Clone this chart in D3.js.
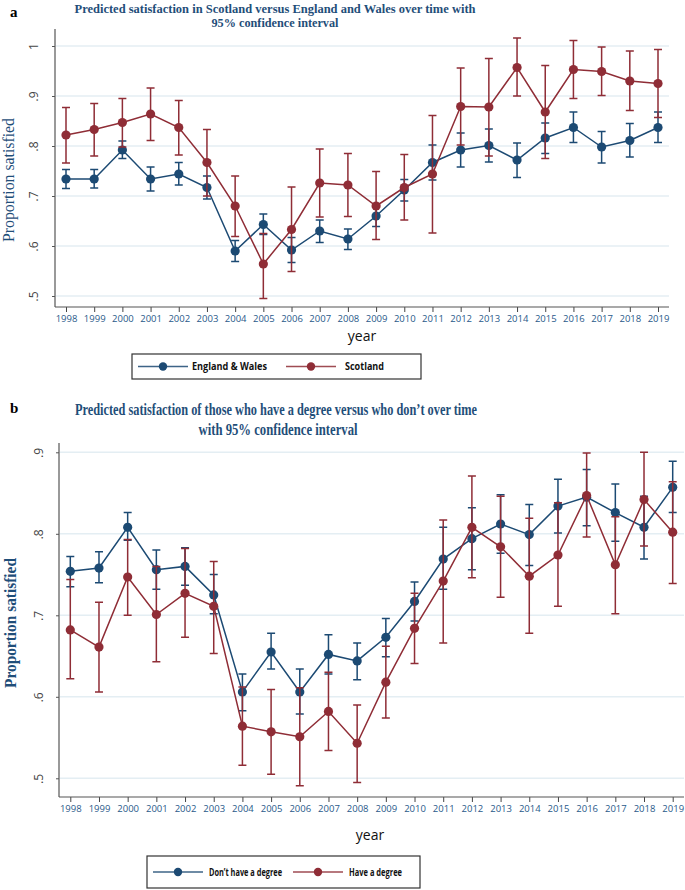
<!DOCTYPE html>
<html>
<head>
<meta charset="utf-8">
<script src="https://cdn.jsdelivr.net/npm/d3@7"></script>
<style>
  body { margin: 0; background: #fff; }
  svg { display: block; }
</style>
</head>
<body>
<svg id="chart" width="685" height="890"></svg>
<script>
// data
var years = [1998, 1999, 2000, 2001, 2002, 2003, 2004, 2005, 2006, 2007, 2008,
             2009, 2010, 2011, 2012, 2013, 2014, 2015, 2016, 2017, 2018, 2019];

// panel a
var ewMean = [0.734, 0.734, 0.792, 0.734, 0.744, 0.717, 0.590, 0.643, 0.592, 0.630, 0.614,
              0.660, 0.712, 0.767, 0.792, 0.801, 0.772, 0.816, 0.837, 0.798, 0.811, 0.837];
var ewLo   = [0.715, 0.716, 0.775, 0.710, 0.722, 0.694, 0.569, 0.623, 0.567, 0.607, 0.593,
              0.639, 0.690, 0.732, 0.758, 0.768, 0.737, 0.785, 0.807, 0.766, 0.778, 0.807];
var ewHi   = [0.753, 0.753, 0.810, 0.758, 0.767, 0.740, 0.611, 0.664, 0.617, 0.652, 0.634,
              0.682, 0.733, 0.802, 0.826, 0.834, 0.806, 0.846, 0.868, 0.829, 0.845, 0.868];
var scMean = [0.822, 0.833, 0.847, 0.864, 0.837, 0.767, 0.680, 0.564, 0.633, 0.726, 0.722,
              0.680, 0.717, 0.744, 0.879, 0.878, 0.957, 0.868, 0.953, 0.949, 0.930, 0.925];
var scLo   = [0.766, 0.780, 0.798, 0.811, 0.782, 0.700, 0.619, 0.495, 0.549, 0.658, 0.659,
              0.613, 0.652, 0.626, 0.802, 0.780, 0.900, 0.775, 0.895, 0.901, 0.871, 0.857];
var scHi   = [0.877, 0.885, 0.895, 0.916, 0.891, 0.833, 0.740, 0.625, 0.718, 0.794, 0.785,
              0.749, 0.783, 0.861, 0.956, 0.975, 1.016, 0.961, 1.011, 0.998, 0.990, 0.993];

// panel b
var noDegMean = [0.754, 0.758, 0.808, 0.756, 0.760, 0.725, 0.606, 0.655, 0.606, 0.652, 0.644,
                 0.673, 0.717, 0.769, 0.794, 0.812, 0.799, 0.834, 0.845, 0.826, 0.808, 0.857];
var noDegLo   = [0.735, 0.740, 0.792, 0.732, 0.737, 0.702, 0.583, 0.634, 0.579, 0.628, 0.621,
                 0.649, 0.693, 0.732, 0.756, 0.776, 0.761, 0.801, 0.810, 0.791, 0.769, 0.826];
var noDegHi   = [0.772, 0.778, 0.826, 0.780, 0.783, 0.750, 0.628, 0.678, 0.634, 0.676, 0.666,
                 0.696, 0.741, 0.808, 0.832, 0.848, 0.836, 0.867, 0.879, 0.861, 0.846, 0.889];
var degMean = [0.682, 0.661, 0.747, 0.701, 0.727, 0.711, 0.564, 0.557, 0.551, 0.582, 0.543,
               0.618, 0.684, 0.742, 0.808, 0.784, 0.748, 0.774, 0.847, 0.762, 0.842, 0.802];
var degLo   = [0.622, 0.606, 0.700, 0.643, 0.673, 0.653, 0.516, 0.505, 0.491, 0.534, 0.495,
               0.574, 0.641, 0.666, 0.746, 0.722, 0.678, 0.711, 0.796, 0.702, 0.785, 0.739];
var degHi   = [0.744, 0.716, 0.793, 0.760, 0.782, 0.766, 0.612, 0.609, 0.611, 0.630, 0.590,
               0.662, 0.727, 0.817, 0.871, 0.846, 0.819, 0.838, 0.899, 0.821, 0.900, 0.864];

var ticksA = [0.5, 0.6, 0.7, 0.8, 0.9, 1];
var ticksB = [0.5, 0.6, 0.7, 0.8, 0.9];
var tickLabel = function(d) { return d === 1 ? "1" : d3.format(".1f")(d).replace(/^0/, ""); };

var blue = "#1c4a73",
    red = "#8f2d36",
    titleColor = "#1f4e79";

var svg = d3.select("#chart");

function series(mean, lo, hi) {
  return years.map(function(yr, i) { return {year: yr, mean: mean[i], lo: lo[i], hi: hi[i]}; });
}

function drawPanel(o) {
  var g = svg.append("g");

  var x = d3.scalePoint().domain(years).range(o.xRange);
  var y = d3.scaleLinear().domain(o.yDomain).range(o.yRange);

  // gridlines
  g.selectAll(".grid")
      .data(o.ticks)
      .enter().append("line")
      .attr("x1", o.left + 1)
      .attr("x2", o.right)
      .attr("y1", function(d) { return y(d); })
      .attr("y2", function(d) { return y(d); })
      .attr("stroke", "#e4eef3")
      .attr("stroke-width", 1.5);

  // y axis
  var yAx = g.append("g")
      .attr("transform", "translate(" + o.left + ",0)")
      .call(d3.axisLeft(y).tickValues(o.ticks).tickFormat(tickLabel).tickSize(3));
  yAx.select(".domain").remove();
  yAx.selectAll(".tick line").attr("stroke", "#555");
  yAx.selectAll(".tick text")
      .attr("x", 0).attr("dy", 0)
      .attr("text-anchor", "middle")
      .attr("transform", "translate(" + o.yLabelDx + ",0) rotate(-90)")
      .attr("fill", "#444")
      .style("font-family", "'Open Sans', sans-serif")
      .style("font-size", "12px");

  // x axis
  var xAx = g.append("g")
      .attr("transform", "translate(0," + o.bottom + ")")
      .call(d3.axisBottom(x).tickSize(5).tickPadding(3));
  xAx.select(".domain").remove();
  xAx.selectAll(".tick line").attr("stroke", "#444");
  xAx.selectAll(".tick text")
      .attr("fill", "#2a5a8a")
      .style("font-family", "'Open Sans', sans-serif")
      .style("font-size", "9.5px");

  g.append("line")
      .attr("x1", o.left).attr("x2", o.left)
      .attr("y1", o.top).attr("y2", o.bottom)
      .attr("stroke", "#555").attr("stroke-width", 1.2);
  g.append("line")
      .attr("x1", o.left).attr("x2", o.right)
      .attr("y1", o.bottom).attr("y2", o.bottom)
      .attr("stroke", "#555").attr("stroke-width", 1.2);

  // series
  o.series.forEach(function(s) {
    var sg = g.append("g");
    var data = s.data;

    sg.selectAll(".ci")
        .data(data)
        .enter().append("path")
        .attr("d", function(d) {
          var cx = x(d.year), h = 4;
          return "M" + (cx - h) + "," + y(d.hi) + "H" + (cx + h) +
                 "M" + cx + "," + y(d.hi) + "V" + y(d.lo) +
                 "M" + (cx - h) + "," + y(d.lo) + "H" + (cx + h);
        })
        .attr("fill", "none")
        .attr("stroke", s.color)
        .attr("stroke-width", 1.5);

    sg.append("path")
        .datum(data)
        .attr("d", d3.line().x(function(d) { return x(d.year); }).y(function(d) { return y(d.mean); }))
        .attr("fill", "none")
        .attr("stroke", s.color)
        .attr("stroke-width", 1.5);

    sg.selectAll(".pt")
        .data(data)
        .enter().append("circle")
        .attr("cx", function(d) { return x(d.year); })
        .attr("cy", function(d) { return y(d.mean); })
        .attr("r", 4.6)
        .attr("fill", s.color);
  });

  // panel letter
  svg.append("text")
      .attr("x", 10).attr("y", o.letterY)
      .text(o.letter)
      .style("font-family", "'Liberation Serif', serif")
      .style("font-weight", "bold")
      .style("font-size", "15px");

  // title
  o.title.forEach(function(t) {
    svg.append("text")
        .attr("x", t.cx).attr("y", t.y)
        .attr("text-anchor", "middle")
        .attr("textLength", t.w)
        .attr("lengthAdjust", "spacingAndGlyphs")
        .attr("fill", titleColor)
        .style("font-family", "'Liberation Serif', serif")
        .style("font-weight", "bold")
        .style("font-size", o.titleSize)
        .text(t.text);
  });

  // y title
  svg.append("text")
      .attr("transform", "translate(" + o.yTitleX + "," + o.yTitleY + ") rotate(-90)")
      .attr("text-anchor", "middle")
      .attr("textLength", o.yTitleW)
      .attr("lengthAdjust", "spacingAndGlyphs")
      .attr("fill", titleColor)
      .style("font-family", "'Liberation Serif', serif")
      .style("font-weight", o.yTitleBold ? "bold" : "normal")
      .style("font-size", "17px")
      .text("Proportion satisfied");

  // x title
  svg.append("text")
      .attr("x", o.xTitleX).attr("y", o.xTitleY)
      .attr("text-anchor", "middle")
      .attr("fill", "#111")
      .style("font-family", "'Open Sans', sans-serif")
      .style("font-size", "14px")
      .text("year");

  // legend
  var L = o.legend;
  svg.append("rect")
      .attr("x", L.x).attr("y", L.y)
      .attr("width", L.w).attr("height", L.h)
      .attr("fill", "#fff")
      .attr("stroke", "#333").attr("stroke-width", 1.2);
  L.items.forEach(function(it, i) {
    var s = o.series[i];
    var cy = L.y + L.h / 2;
    svg.append("line")
        .attr("x1", it.x).attr("x2", it.x + 50)
        .attr("y1", cy).attr("y2", cy)
        .attr("stroke", s.color).attr("stroke-width", 1.5).attr("opacity", 0.85);
    svg.append("circle")
        .attr("cx", it.x + 25).attr("cy", cy).attr("r", 4.2)
        .attr("fill", s.color);
    svg.append("text")
        .attr("x", it.tx).attr("y", cy + 3.5)
        .attr("textLength", it.tw)
        .attr("lengthAdjust", "spacingAndGlyphs")
        .attr("fill", "#111")
        .style("font-family", "'Open Sans', sans-serif")
        .style("font-weight", "bold")
        .style("font-size", "10.5px")
        .text(s.name);
  });
}

drawPanel({
  letter: "a", letterY: 17,
  titleSize: "13.5px",
  title: [
    {text: "Predicted satisfaction in Scotland versus England and Wales over time with", cx: 275, y: 13, w: 401},
    {text: "95% confidence interval", cx: 275, y: 27, w: 127}
  ],
  xRange: [66, 658], yDomain: [0.5, 1], yRange: [296, 46],
  left: 55, right: 669, top: 29, bottom: 307,
  ticks: ticksA, yLabelDx: -17,
  yTitleX: 14, yTitleY: 180, yTitleW: 124, yTitleBold: false,
  xTitleX: 362, xTitleY: 341,
  series: [
    {name: "England & Wales", color: blue, data: series(ewMean, ewLo, ewHi)},
    {name: "Scotland", color: red, data: series(scMean, scLo, scHi)}
  ],
  legend: {x: 132, y: 354, w: 289, h: 25,
           items: [{x: 138, tx: 192, tw: 75}, {x: 286, tx: 345, tw: 39}]}
});

drawPanel({
  letter: "b", letterY: 413,
  titleSize: "16px",
  title: [
    {text: "Predicted satisfaction of those who have a degree versus who don\u2019t over time", cx: 276, y: 415, w: 402},
    {text: "with 95% confidence interval", cx: 278, y: 435, w: 159}
  ],
  xRange: [70.3, 672.7], yDomain: [0.5, 0.9], yRange: [778.3, 452.3],
  left: 59, right: 684, top: 443, bottom: 797,
  ticks: ticksB, yLabelDx: -16,
  yTitleX: 16, yTitleY: 623, yTitleW: 130, yTitleBold: true,
  xTitleX: 370, xTitleY: 840,
  series: [
    {name: "Don\u2019t have a degree", color: blue, data: series(noDegMean, noDegLo, noDegHi)},
    {name: "Have a degree", color: red, data: series(degMean, degLo, degHi)}
  ],
  legend: {x: 147, y: 856, w: 273, h: 32,
           items: [{x: 153, tx: 209, tw: 73}, {x: 293, tx: 349, tw: 53}]}
});
</script>
</body>
</html>
